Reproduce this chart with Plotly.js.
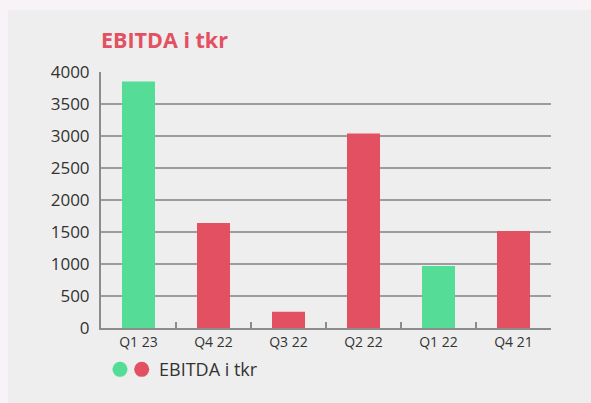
<!DOCTYPE html>
<html>
<head>
<meta charset="utf-8">
<script src="https://cdn.plot.ly/plotly-3.0.1.min.js"></script>
<style>
  html, body { margin: 0; padding: 0; background: #f7f3f7; width: 591px; height: 403px; overflow: hidden; }
  #chart { position: absolute; left: 8px; top: 10px; width: 583px; height: 393px; }
</style>
</head>
<body>
<div id="chart"></div>
<script>
const categories = ["Q1 23", "Q4 22", "Q3 22", "Q2 22", "Q1 22", "Q4 21"];
const values = [3850, 1640, 255, 3040, 970, 1515];
const barColors = ["#55dc96", "#e35062", "#e35062", "#e35062", "#55dc96", "#e35062"];
const yTicks = [0, 500, 1000, 1500, 2000, 2500, 3000, 3500, 4000];
const seriesName = "EBITDA i tkr";
const legendColors = ["#55dc96", "#e35062"];

const FONT = "Open Sans, sans-serif";

const trace = {
  type: "bar",
  x: categories,
  y: values,
  marker: { color: barColors },
  name: seriesName,
  showlegend: false,
  hoverinfo: "x+y"
};

const legendY = -0.1615;
const shapes = legendColors.map((c, i) => ({
  type: "circle",
  xref: "paper", yref: "paper",
  xsizemode: "pixel", ysizemode: "pixel",
  xanchor: [0.0422, 0.0904][i], yanchor: legendY,
  x0: -7.5, x1: 7.5, y0: -7.5, y1: 7.5,
  fillcolor: c, line: { width: 0 }
}));

const layout = {
  width: 583, height: 393,
  paper_bgcolor: "#eeeeee",
  plot_bgcolor: "#eeeeee",
  margin: { l: 93, r: 40, t: 61.5, b: 74.5 },
  bargap: 0.56,
  font: { family: FONT, color: "#333333" },
  title: {
    text: "<b>" + seriesName + "</b>",
    font: { family: FONT, size: 21.5, color: "#e35062" },
    xref: "paper", x: 0, xanchor: "left",
    yref: "container", y: 1 - 30 / 393, yanchor: "middle"
  },
  xaxis: {
    type: "category",
    showline: true, linecolor: "#8c8c8c", linewidth: 2,
    ticks: "inside", tickson: "boundaries", ticklen: 6, tickwidth: 2, tickcolor: "#8c8c8c",
    tickfont: { family: FONT, size: 14, color: "#333333" },
    showgrid: false, zeroline: false
  },
  yaxis: {
    range: [0, 4000],
    tickvals: yTicks,
    ticktext: yTicks.map(String),
    showline: true, linecolor: "#8c8c8c", linewidth: 2,
    showgrid: true, gridcolor: "#9c9c9c", gridwidth: 2,
    zeroline: false,
    ticks: "", ticklabelstandoff: 6,
    tickfont: { family: FONT, size: 17, color: "#333333" }
  },
  shapes: shapes,
  annotations: [{
    xref: "paper", yref: "paper",
    x: 0.124, y: legendY, xanchor: "left", yanchor: "middle",
    text: seriesName, showarrow: false,
    font: { family: FONT, size: 18, color: "#333333" }
  }]
};

Plotly.newPlot("chart", [trace], layout, { displayModeBar: false, staticPlot: true });
</script>
</body>
</html>
